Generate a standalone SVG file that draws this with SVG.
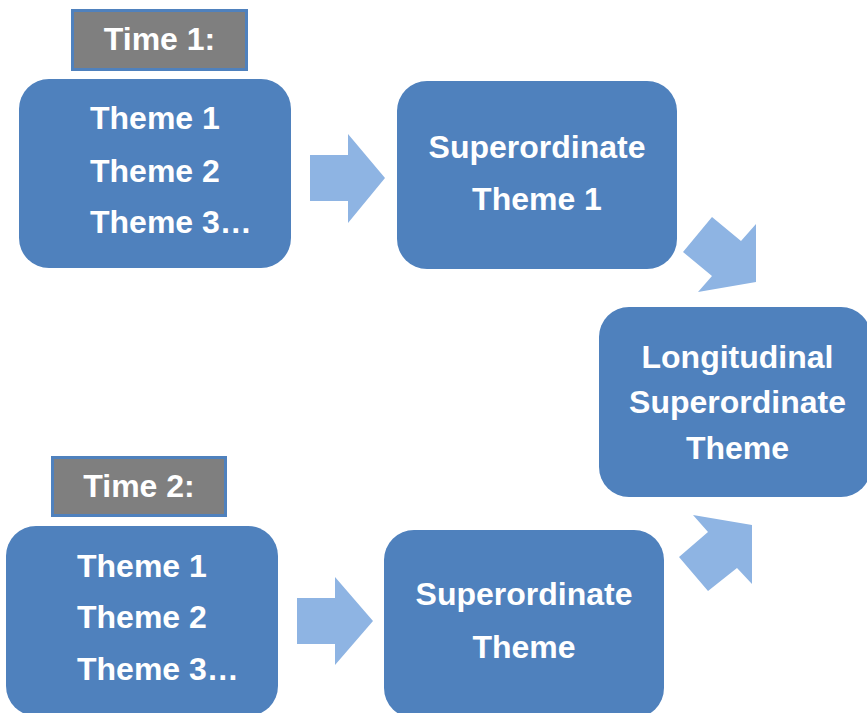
<svg xmlns="http://www.w3.org/2000/svg" width="867" height="713" viewBox="0 0 867 713">
<style>
.box{fill:#4f81bd;}
.tag{fill:#7f7f7f;stroke:#4f81bd;stroke-width:3;}
.arrow{fill:#8eb4e3;}
text{font-family:"Liberation Sans",Arial,sans-serif;font-weight:bold;font-size:32px;fill:#ffffff;}
.c{text-anchor:middle;}
</style>
<rect width="867" height="713" fill="#ffffff"/>
<g id="connectors">
<polygon class="arrow" points="310,155 348,155 348,134 385,178 348,223 348,201 310,201"/>
<polygon class="arrow" points="297,598 335,598 335,577 373,621 335,665 335,644 297,644"/>
<polygon class="arrow" points="712,217 741,241 756,224 756,282 698,292 712,276 683,252"/>
<polygon class="arrow" points="693,515 752,525 752,584 737,568 708,591 679,557 708,532"/>
</g>
<g id="time1">
<rect class="tag" x="72.5" y="10.5" width="174" height="59"/>
<text class="c" x="159.5" y="50">Time 1:</text>
</g>
<g id="themes1">
<rect class="box" x="19" y="79" width="272" height="189" rx="30"/>
<text x="90" y="129">Theme 1</text>
<text x="90" y="182">Theme 2</text>
<text x="90" y="233">Theme 3…</text>
</g>
<g id="super1">
<rect class="box" x="397" y="81" width="280" height="188" rx="30"/>
<text class="c" x="537" y="158">Superordinate</text>
<text class="c" x="537" y="210">Theme 1</text>
</g>
<g id="longitudinal">
<rect class="box" x="599" y="307" width="272" height="190" rx="30"/>
<text class="c" x="737.5" y="368">Longitudinal</text>
<text class="c" x="737.5" y="413">Superordinate</text>
<text class="c" x="737.5" y="459">Theme</text>
</g>
<g id="time2">
<rect class="tag" x="52.5" y="457.5" width="173" height="58"/>
<text class="c" x="139" y="497">Time 2:</text>
</g>
<g id="themes2">
<rect class="box" x="6" y="526" width="272" height="190" rx="30"/>
<text x="77" y="577">Theme 1</text>
<text x="77" y="628">Theme 2</text>
<text x="77" y="680">Theme 3…</text>
</g>
<g id="super2">
<rect class="box" x="384" y="530" width="280" height="188" rx="30"/>
<text class="c" x="524" y="605">Superordinate</text>
<text class="c" x="524" y="658">Theme</text>
</g>
</svg>
